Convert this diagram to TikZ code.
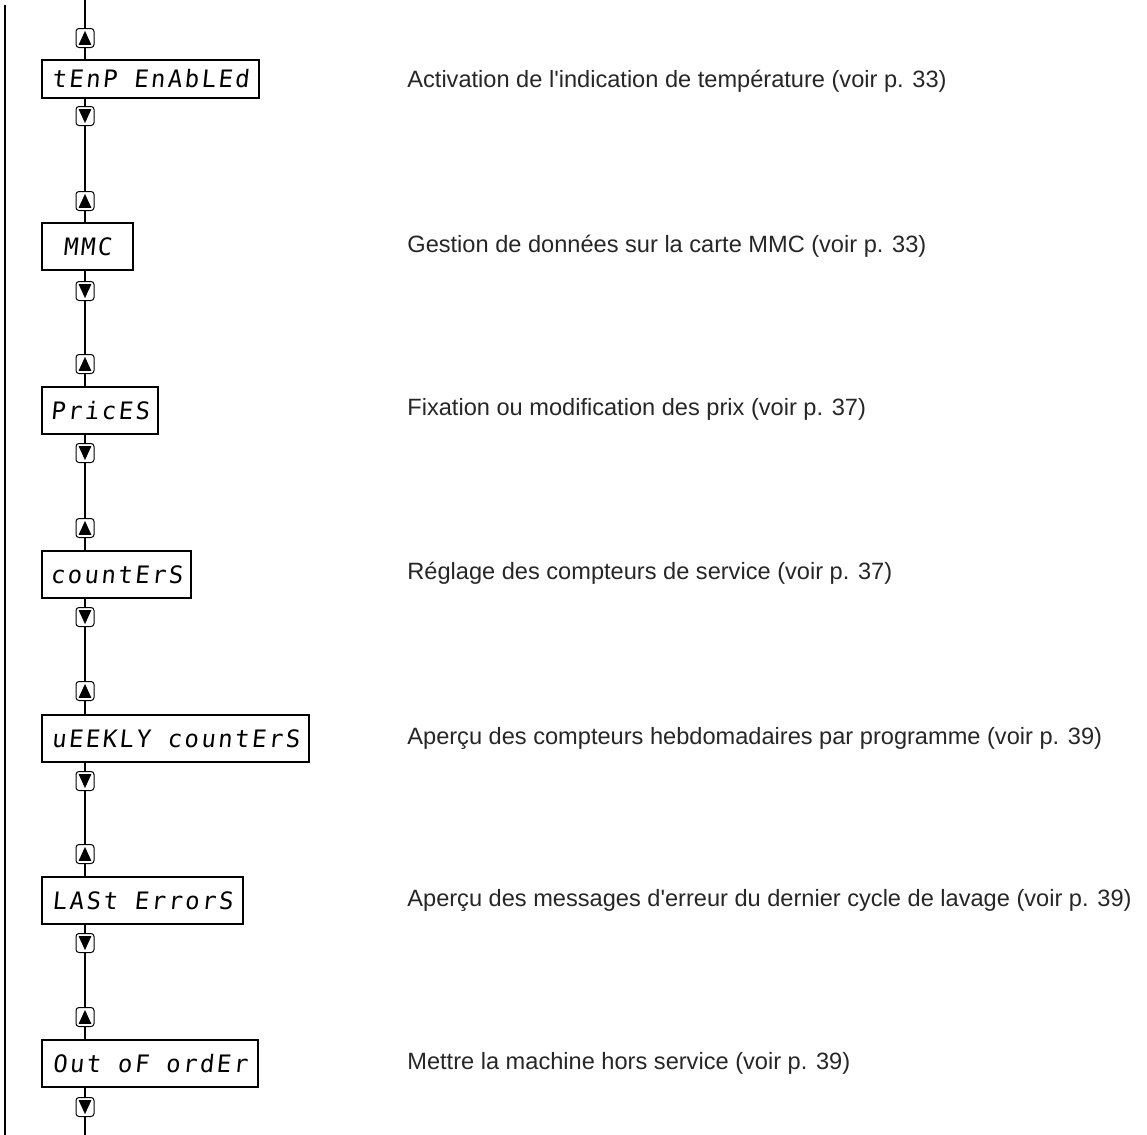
\documentclass[tikz,border=0pt]{standalone}
\usepackage{fontspec}
\setmainfont{Liberation Sans}
\newfontfamily\segfont[FakeSlant=0.1,LetterSpace=10]{DejaVu Sans Mono}

\tikzset{
  disp/.style={draw, line width=1pt, anchor=north west, minimum height=23.5pt, inner sep=0pt,
    font=\segfont\fontsize{12pt}{14pt}\selectfont},
  key/.style={draw, fill=white, rounded corners=1.5pt, minimum width=9pt, minimum height=9.5pt,
    inner sep=0pt, line width=0.5pt},
  keyup/.style={key, path picture={\fill[black, sharp corners] ([yshift=-1.2pt]path picture bounding box.north)
    -- ([xshift=1.3pt,yshift=1.3pt]path picture bounding box.south west)
    -- ([xshift=-1.3pt,yshift=1.3pt]path picture bounding box.south east) -- cycle;}},
  keydown/.style={key, path picture={\fill[black, sharp corners] ([yshift=1.2pt]path picture bounding box.south)
    -- ([xshift=1.3pt,yshift=-1.3pt]path picture bounding box.north west)
    -- ([xshift=-1.3pt,yshift=-1.3pt]path picture bounding box.north east) -- cycle;}},
  info/.style={anchor=west, inner sep=0pt, font=\fontsize{11.8pt}{14pt}\selectfont, text=black!85},
  wire/.style={line width=0.6pt}
}

\begin{document}
\begin{tikzpicture}[x=0.5pt, y=-0.5pt]
  \useasboundingbox (0,0) rectangle (1147,1135);

  \coordinate (lt) at (5,5);
  \coordinate (lb) at (5,1135);
  \coordinate (top) at (85,0);
  \coordinate (bot) at (85,1135);

  % displays
  \node[disp, minimum width=108.5pt, minimum height=19pt] (b1) at (41,59)   {tEnP EnAbLEd};
  \node[disp, minimum width=45.5pt]  (b2) at (41,222)  {MMC};
  \node[disp, minimum width=58pt]    (b3) at (41,386)  {PricES};
  \node[disp, minimum width=74.5pt]  (b4) at (41,550)  {countErS};
  \node[disp, minimum width=133.5pt] (b5) at (41,714)  {uEEKLY countErS};
  \node[disp, minimum width=100.5pt] (b6) at (41,876)  {LASt ErrorS};
  \node[disp, minimum width=108pt]   (b7) at (41,1039) {Out oF ordEr};

  % keys
  \node[keyup]   (u1) at (85,38)   {};
  \node[keydown] (d1) at (85,116)  {};
  \node[keyup]   (u2) at (85,201)  {};
  \node[keydown] (d2) at (85,291)  {};
  \node[keyup]   (u3) at (85,364)  {};
  \node[keydown] (d3) at (85,453)  {};
  \node[keyup]   (u4) at (85,528)  {};
  \node[keydown] (d4) at (85,617)  {};
  \node[keyup]   (u5) at (85,691)  {};
  \node[keydown] (d5) at (85,781)  {};
  \node[keyup]   (u6) at (85,854)  {};
  \node[keydown] (d6) at (85,943)  {};
  \node[keyup]   (u7) at (85,1017) {};
  \node[keydown] (d7) at (85,1107) {};

  % texts
  \node[info] (t1) at (407,81)   {Activation de l\textquotesingle indication de température (voir p. 33)};
  \node[info] (t2) at (407,246)  {Gestion de données sur la carte MMC (voir p. 33)};
  \node[info] (t3) at (407,409)  {Fixation ou modification des prix (voir p. 37)};
  \node[info] (t4) at (407,573)  {Réglage des compteurs de service (voir p. 37)};
  \node[info] (t5) at (407,738)  {Aperçu des compteurs hebdomadaires par programme (voir p. 39)};
  \node[info] (t6) at (407,900)  {Aperçu des messages d\textquotesingle erreur du dernier cycle de lavage (voir p. 39)};
  \node[info] (t7) at (407,1063) {Mettre la machine hors service (voir p. 39)};

  \draw[wire] (lt) -- (lb);
  \draw[wire] (top) -- (u1);
  \draw[wire] (u1) -- (u1 |- b1.north);
  \draw[wire] (d1 |- b1.south) -- (d1);
  \draw[wire] (d1) -- (u2);
  \draw[wire] (u2) -- (u2 |- b2.north);
  \draw[wire] (d2 |- b2.south) -- (d2);
  \draw[wire] (d2) -- (u3);
  \draw[wire] (u3) -- (u3 |- b3.north);
  \draw[wire] (d3 |- b3.south) -- (d3);
  \draw[wire] (d3) -- (u4);
  \draw[wire] (u4) -- (u4 |- b4.north);
  \draw[wire] (d4 |- b4.south) -- (d4);
  \draw[wire] (d4) -- (u5);
  \draw[wire] (u5) -- (u5 |- b5.north);
  \draw[wire] (d5 |- b5.south) -- (d5);
  \draw[wire] (d5) -- (u6);
  \draw[wire] (u6) -- (u6 |- b6.north);
  \draw[wire] (d6 |- b6.south) -- (d6);
  \draw[wire] (d6) -- (u7);
  \draw[wire] (u7) -- (u7 |- b7.north);
  \draw[wire] (d7 |- b7.south) -- (d7);
  \draw[wire] (d7) -- (bot);
\end{tikzpicture}
\end{document}
